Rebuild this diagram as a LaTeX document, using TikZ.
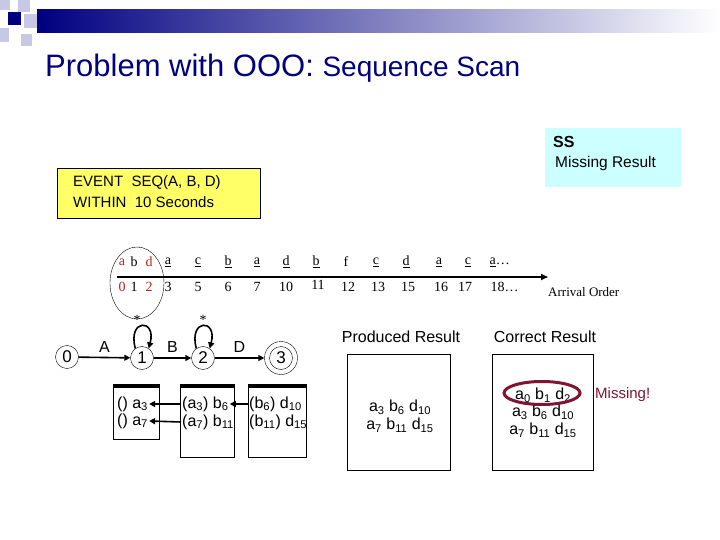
\documentclass[tikz,border=0pt]{standalone}
\usepackage{fontspec}
\setmainfont{Liberation Sans}
\newfontfamily\tms{Liberation Serif}
\usetikzlibrary{arrows.meta,shapes.geometric}
\definecolor{navy}{RGB}{0,0,128}
\definecolor{lav}{RGB}{200,200,230}
\definecolor{maroon}{RGB}{128,20,50}
\definecolor{dred}{RGB}{190,30,30}
\definecolor{ssfill}{RGB}{204,255,255}
\definecolor{yfill}{RGB}{255,255,102}
\newcommand\fsz[1]{\fontsize{#1}{#1}\selectfont}
\newcommand\sbs[1]{\textsubscript{#1}}
\tikzset{
  tl/.style={font=\tms\fsz{14}, inner sep=0.5pt},
  tlr/.style={tl, text=dred},
  st/.style={draw, circle, minimum size=23pt, inner sep=0pt, font=\fsz{17}},
  edge/.style={line width=1.6pt, -{Triangle[length=6pt,width=6pt]}},
  stk/.style={draw, anchor=north west, inner sep=0pt},
  stxt/.style={anchor=west, inner sep=1pt, font=\fsz{16}},
  rtxt/.style={inner sep=1pt, font=\fsz{16}},
  lbl/.style={font=\fsz{16}, inner sep=0pt},
}
\begin{document}
\begin{tikzpicture}[x=1pt,y=-1pt]
\useasboundingbox (0,0) rectangle (720,540);
% header decoration
\shade[left color=navy, right color=white] (37,10) rectangle (720,33);
\fill[lav] (0,0) rectangle (10,10);
\fill[lav] (18,0) rectangle (30,12);
\fill[lav] (24,14) rectangle (37,28);
\fill[navy] (8,12) rectangle (21,25);
\fill[lav] (0,28) rectangle (9,42);
\fill[lav] (21,34) rectangle (32,46);
% title
\node[anchor=base west, inner sep=0pt, text=navy] (title) at (45,77)
  {\fsz{31}Problem with OOO: \fsz{28}Sequence Scan};
% SS box
\node[fill=ssfill, minimum width=136, minimum height=59, anchor=north west, inner sep=0pt] (ss) at (545,128) {};
\node[anchor=west, inner sep=0pt, font=\fsz{16}\bfseries] (sst) at (553,142) {SS};
\node[anchor=west, inner sep=0pt, font=\fsz{15.5}] (ssm) at (555,163) {Missing Result};
% query box
\node[draw, fill=yfill, minimum width=203, minimum height=50, anchor=north west, inner sep=0pt] (q) at (57,168) {};
\node[anchor=west, inner sep=0pt, font=\fsz{15}] (q1) at (73,183) {EVENT\ \ SEQ(A, B, D)};
\node[anchor=west, inner sep=0pt, font=\fsz{15}] (q2) at (73,202) {WITHIN\ \ 10 Seconds};
% timeline
\coordinate (ta) at (117,277);
\coordinate (tb) at (548,277);
\draw[line width=1.6pt, -{Triangle[length=7pt,width=6pt]}] (ta) -- (tb);
\node[tlr] (l0) at (122,262) {a};
\node[tl] (l1) at (134,262) {b};
\node[tlr] (l2) at (149,262) {d};
\foreach \x/\l [count=\i] in {168/a,198/c,228/b,257/a,286/d,316/b,376/c,406/d,439/a,468/c}
  \node[tl] (u\i) at (\x,262) {\underline{\l}};
\node[tl] (lf) at (346,262) {f};
\node[tl, anchor=west] (llast) at (489,262) {\underline{a}\dots};
\node[tlr] (n0) at (122,287) {0};
\node[tl] (n1) at (134,287) {1};
\node[tlr] (n2) at (149,287) {2};
\foreach \x/\l [count=\i] in {168/3,198/5,228/6,257/7,286/10,348/12,378/13,408/15,441/16,465/17}
  \node[tl] (m\i) at (\x,287) {\l};
\node[tl] (n11) at (318,285) {11};
\node[tl, anchor=west] (nlast) at (490,287) {18\dots};
\node[draw, ellipse, minimum width=54, minimum height=72, inner sep=0pt] (grp) at (137,283) {};
\node[anchor=west, inner sep=0pt, font=\tms\fsz{13}] (arr) at (548,292) {Arrival Order};
% automaton
\node[st] (s0) at (67,357) {0};
\node[st] (s1) at (142,358) {1};
\node[st] (s2) at (203,358) {2};
\node[draw, circle, minimum size=33pt, inner sep=0pt, font=\fsz{17}] (s3) at (281,358) {3};
\draw (s3.center) circle (11.5);
\draw[edge] (s0) -- (s1) node[midway, lbl, yshift=11pt] (la) {A};
\draw[edge] (s1) -- (s2) node[midway, lbl, yshift=11pt] (lb) {B};
\draw[edge] (s2) -- (s3) node[midway, lbl, yshift=11pt] (ld) {D};
\draw[edge] (s1.125) .. controls +(-8,-30) and +(8,-30) .. (s1.55);
\draw[edge] (s2.125) .. controls +(-8,-30) and +(8,-30) .. (s2.55);
\node[tl] (ast1) at (137,320) {*};
\node[tl] (ast2) at (203,320) {*};
% stacks
\node[stk, minimum width=46, minimum height=55] (k1) at (113,384) {};
\node[stk, minimum width=54, minimum height=73] (k2) at (180,384) {};
\node[stk, minimum width=58, minimum height=73] (k3) at (248,384) {};
\foreach \k in {k1,k2,k3}
  \fill (\k.north west) rectangle ([yshift=-4pt]\k.north east);
\node[stxt] (t1a) at (116,404) {() a\sbs{3}};
\node[stxt] (t1b) at (116,421) {() a\sbs{7}};
\node[stxt] (t2a) at (181,404) {(a\sbs{3}) b\sbs{6}};
\node[stxt] (t2b) at (181,422) {(a\sbs{7}) b\sbs{11}};
\node[stxt] (t3a) at (248,404) {(b\sbs{6}) d\sbs{10}};
\node[stxt] (t3b) at (248,422) {(b\sbs{11}) d\sbs{15}};
\draw[edge] (t2a.west) -- (t1a.east);
\draw[edge] (t2b.west) -- (t1b.east);
\draw[edge] (t3a.west) -- (t2a.east);
% results
\node[lbl] (pr) at (401,337) {Produced Result};
\node[stk, minimum width=103, minimum height=116] (pbox) at (347,354) {};
\node[rtxt] (p1) at (400,407) {a\sbs{3} b\sbs{6} d\sbs{10}};
\node[rtxt] (p2) at (400,425) {a\sbs{7} b\sbs{11} d\sbs{15}};
\node[lbl] (cr) at (545,337) {Correct Result};
\node[stk, minimum width=101, minimum height=116] (cbox) at (492,354) {};
\node[rtxt] (c0) at (543,395) {a\sbs{0} b\sbs{1} d\sbs{2}};
\node[rtxt] (c1) at (543,412) {a\sbs{3} b\sbs{6} d\sbs{10}};
\node[rtxt] (c2) at (543,430) {a\sbs{7} b\sbs{11} d\sbs{15}};
\node[draw=maroon, line width=3pt, ellipse, minimum width=76, minimum height=23, inner sep=0pt] (mel) at (542,393) {};
\node[anchor=west, inner sep=0pt, font=\fsz{15}, text=maroon] (miss) at (595,395) {Missing!};
\end{tikzpicture}
\end{document}
